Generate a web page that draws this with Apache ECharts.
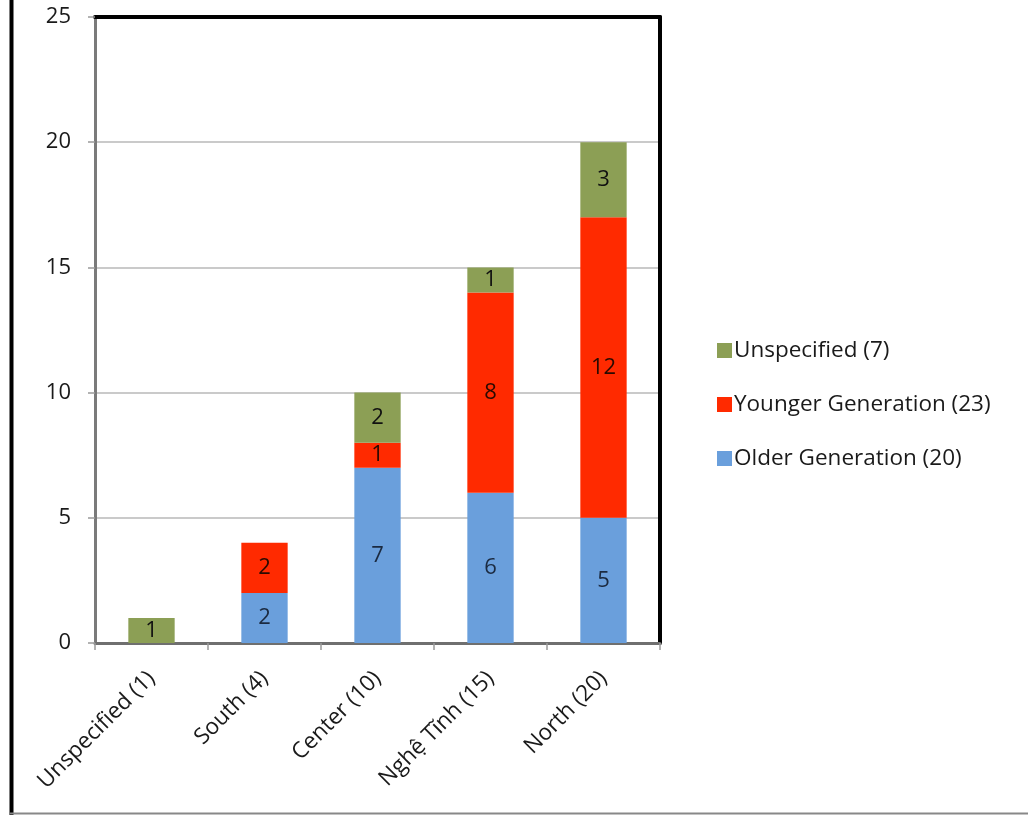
<!DOCTYPE html>
<html>
<head>
<meta charset="utf-8">
<script src="https://cdn.jsdelivr.net/npm/echarts@6/dist/echarts.min.js"></script>
<style>
html,body{margin:0;padding:0;background:#fff;}
#chart{width:1028px;height:815px;}
</style>
</head>
<body>
<div id="chart"></div>
<script>
const categories = ['Unspecified (1)', 'South (4)', 'Center (10)', 'Nghệ Tĩnh (15)', 'North (20)'];
const olderGeneration = [null, 2, 7, 6, 5];
const youngerGeneration = [null, 2, 1, 8, 12];
const unspecified = [1, null, 2, 1, 3];
const seriesNames = ['Older Generation (20)', 'Younger Generation (23)', 'Unspecified (7)'];
const yTicks = [0, 5, 10, 15, 20, 25];

const FONT = 'Open Sans';
const chart = echarts.init(document.getElementById('chart'), null, {renderer: 'canvas'});

function barSeries(name, data, color, labelColor) {
  return {
    name: name,
    type: 'bar',
    stack: 'total',
    data: data,
    barWidth: '41%',
    itemStyle: {color: color},
    label: {show: true, position: 'inside', color: labelColor, fontFamily: FONT, fontSize: 22},
    emphasis: {disabled: true},
    animation: false
  };
}

chart.setOption({
  animation: false,
  textStyle: {fontFamily: FONT},
  grid: {left: 95, top: 17, right: 368, bottom: 172, containLabel: false},
  legend: {
    orient: 'vertical',
    left: 712,
    top: 334,
    itemWidth: 15,
    itemHeight: 15,
    itemGap: 31,
    icon: 'rect',
    data: [seriesNames[2], seriesNames[1], seriesNames[0]],
    textStyle: {fontFamily: FONT, fontSize: 22.5, color: '#1a1a1a', padding: [0, 0, 0, -3]}
  },
  xAxis: [{
    type: 'category',
    data: categories,
    position: 'bottom',
    axisLine: {show: true, onZero: false, lineStyle: {color: '#6f6f6f', width: 3}},
    axisTick: {show: true, length: 7, lineStyle: {color: '#9a9a9a', width: 1.5}, alignWithLabel: false},
    axisLabel: {rotate: 45, margin: 32, fontSize: 22.5, color: '#1a1a1a', fontFamily: FONT, interval: 0},
    splitLine: {show: false}
  }, {
    type: 'category',
    data: categories,
    position: 'top',
    axisLine: {show: true, onZero: false, lineStyle: {color: '#000', width: 4}},
    axisTick: {show: false},
    axisLabel: {show: false}
  }],
  yAxis: [{
    type: 'value',
    min: 0,
    max: 25,
    interval: 5,
    position: 'left',
    axisLine: {show: true, onZero: false, lineStyle: {color: '#7a7a7a', width: 3}},
    axisTick: {show: true, length: 7, lineStyle: {color: '#9a9a9a', width: 1.5}},
    axisLabel: {margin: 24, fontSize: 22, color: '#1a1a1a', fontFamily: FONT,
      formatter: function (v) { return yTicks.indexOf(v) >= 0 ? String(v) : ''; }},
    splitLine: {show: true, lineStyle: {color: '#b8b8b8', width: 1.5}}
  }, {
    type: 'value',
    min: 0,
    max: 25,
    interval: 5,
    position: 'right',
    axisLine: {show: true, onZero: false, lineStyle: {color: '#000', width: 4}},
    axisTick: {show: false},
    axisLabel: {show: false},
    splitLine: {show: false}
  }],
  series: [
    barSeries(seriesNames[0], olderGeneration, '#6a9fdc', '#1b2a40'),
    barSeries(seriesNames[1], youngerGeneration, '#ff2a00', '#2a0a00'),
    barSeries(seriesNames[2], unspecified, '#8c9f55', '#111')
  ],
  graphic: [
    {type: 'line', shape: {x1: 11.5, y1: 0, x2: 11.5, y2: 815}, style: {stroke: '#000', lineWidth: 4}, silent: true},
    {type: 'line', shape: {x1: 10, y1: 813.5, x2: 1028, y2: 813.5}, style: {stroke: '#888', lineWidth: 2}, silent: true}
  ]
});
</script>
</body>
</html>
